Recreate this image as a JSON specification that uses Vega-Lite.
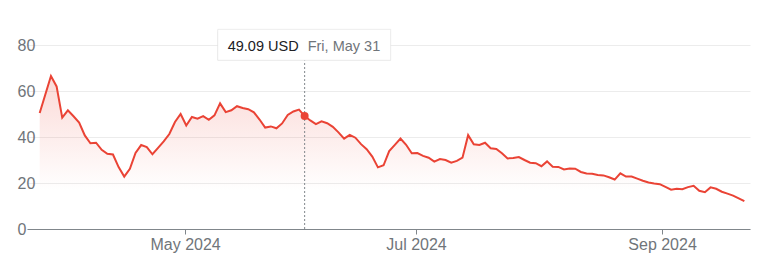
{
  "$schema": "https://vega.github.io/schema/vega-lite/v6.json",
  "width": 723,
  "height": 184,
  "autosize": {"type": "none"},
  "padding": {"left": 27, "top": 45, "right": 18, "bottom": 45},
  "background": "white",
  "config": {"view": {"stroke": null}, "font": "Liberation Sans"},
  "data": {"values": [
    {"i":0,"date":"2024-03-25","price":50.4},
    {"i":1,"date":"2024-03-26","price":58.5},
    {"i":2,"date":"2024-03-27","price":66.5},
    {"i":3,"date":"2024-03-28","price":62.0},
    {"i":4,"date":"2024-04-01","price":48.4},
    {"i":5,"date":"2024-04-02","price":51.6},
    {"i":6,"date":"2024-04-03","price":49.0},
    {"i":7,"date":"2024-04-04","price":46.3},
    {"i":8,"date":"2024-04-05","price":40.7},
    {"i":9,"date":"2024-04-08","price":37.3},
    {"i":10,"date":"2024-04-09","price":37.5},
    {"i":11,"date":"2024-04-10","price":34.4},
    {"i":12,"date":"2024-04-11","price":32.7},
    {"i":13,"date":"2024-04-12","price":32.4},
    {"i":14,"date":"2024-04-15","price":26.9},
    {"i":15,"date":"2024-04-16","price":22.8},
    {"i":16,"date":"2024-04-17","price":26.2},
    {"i":17,"date":"2024-04-18","price":33.1},
    {"i":18,"date":"2024-04-19","price":36.5},
    {"i":19,"date":"2024-04-22","price":35.6},
    {"i":20,"date":"2024-04-23","price":32.5},
    {"i":21,"date":"2024-04-24","price":35.3},
    {"i":22,"date":"2024-04-25","price":38.1},
    {"i":23,"date":"2024-04-26","price":41.3},
    {"i":24,"date":"2024-04-29","price":46.5},
    {"i":25,"date":"2024-04-30","price":50.0},
    {"i":26,"date":"2024-05-01","price":45.0},
    {"i":27,"date":"2024-05-02","price":48.7},
    {"i":28,"date":"2024-05-03","price":48.0},
    {"i":29,"date":"2024-05-06","price":49.1},
    {"i":30,"date":"2024-05-07","price":47.5},
    {"i":31,"date":"2024-05-08","price":49.4},
    {"i":32,"date":"2024-05-09","price":54.6},
    {"i":33,"date":"2024-05-10","price":50.8},
    {"i":34,"date":"2024-05-13","price":51.6},
    {"i":35,"date":"2024-05-14","price":53.4},
    {"i":36,"date":"2024-05-15","price":52.6},
    {"i":37,"date":"2024-05-16","price":52.1},
    {"i":38,"date":"2024-05-17","price":50.7},
    {"i":39,"date":"2024-05-20","price":47.6},
    {"i":40,"date":"2024-05-21","price":44.1},
    {"i":41,"date":"2024-05-22","price":44.6},
    {"i":42,"date":"2024-05-23","price":43.8},
    {"i":43,"date":"2024-05-24","price":45.9},
    {"i":44,"date":"2024-05-28","price":49.6},
    {"i":45,"date":"2024-05-29","price":51.1},
    {"i":46,"date":"2024-05-30","price":51.9},
    {"i":47,"date":"2024-05-31","price":49.09},
    {"i":48,"date":"2024-06-03","price":47.2},
    {"i":49,"date":"2024-06-04","price":45.6},
    {"i":50,"date":"2024-06-05","price":46.8},
    {"i":51,"date":"2024-06-06","price":46.0},
    {"i":52,"date":"2024-06-07","price":44.4},
    {"i":53,"date":"2024-06-10","price":42.0},
    {"i":54,"date":"2024-06-11","price":39.3},
    {"i":55,"date":"2024-06-12","price":40.9},
    {"i":56,"date":"2024-06-13","price":39.7},
    {"i":57,"date":"2024-06-14","price":36.9},
    {"i":58,"date":"2024-06-17","price":34.7},
    {"i":59,"date":"2024-06-18","price":31.5},
    {"i":60,"date":"2024-06-20","price":26.8},
    {"i":61,"date":"2024-06-21","price":27.7},
    {"i":62,"date":"2024-06-24","price":33.9},
    {"i":63,"date":"2024-06-25","price":36.6},
    {"i":64,"date":"2024-06-26","price":39.3},
    {"i":65,"date":"2024-06-27","price":36.6},
    {"i":66,"date":"2024-06-28","price":32.9},
    {"i":67,"date":"2024-07-01","price":33.0},
    {"i":68,"date":"2024-07-02","price":31.8},
    {"i":69,"date":"2024-07-03","price":31.0},
    {"i":70,"date":"2024-07-05","price":29.3},
    {"i":71,"date":"2024-07-08","price":30.4},
    {"i":72,"date":"2024-07-09","price":30.0},
    {"i":73,"date":"2024-07-10","price":28.8},
    {"i":74,"date":"2024-07-11","price":29.6},
    {"i":75,"date":"2024-07-12","price":31.0},
    {"i":76,"date":"2024-07-15","price":40.8},
    {"i":77,"date":"2024-07-16","price":36.8},
    {"i":78,"date":"2024-07-17","price":36.5},
    {"i":79,"date":"2024-07-18","price":37.5},
    {"i":80,"date":"2024-07-19","price":35.1},
    {"i":81,"date":"2024-07-22","price":34.8},
    {"i":82,"date":"2024-07-23","price":32.9},
    {"i":83,"date":"2024-07-24","price":30.7},
    {"i":84,"date":"2024-07-25","price":30.9},
    {"i":85,"date":"2024-07-26","price":31.3},
    {"i":86,"date":"2024-07-29","price":30.0},
    {"i":87,"date":"2024-07-30","price":28.8},
    {"i":88,"date":"2024-07-31","price":28.6},
    {"i":89,"date":"2024-08-01","price":27.3},
    {"i":90,"date":"2024-08-02","price":29.4},
    {"i":91,"date":"2024-08-05","price":27.1},
    {"i":92,"date":"2024-08-06","price":27.0},
    {"i":93,"date":"2024-08-07","price":25.9},
    {"i":94,"date":"2024-08-08","price":26.3},
    {"i":95,"date":"2024-08-09","price":26.2},
    {"i":96,"date":"2024-08-12","price":24.8},
    {"i":97,"date":"2024-08-13","price":24.1},
    {"i":98,"date":"2024-08-14","price":24.0},
    {"i":99,"date":"2024-08-15","price":23.5},
    {"i":100,"date":"2024-08-16","price":23.3},
    {"i":101,"date":"2024-08-19","price":22.5},
    {"i":102,"date":"2024-08-20","price":21.5},
    {"i":103,"date":"2024-08-21","price":24.2},
    {"i":104,"date":"2024-08-22","price":22.8},
    {"i":105,"date":"2024-08-23","price":22.8},
    {"i":106,"date":"2024-08-26","price":21.9},
    {"i":107,"date":"2024-08-27","price":21.0},
    {"i":108,"date":"2024-08-28","price":20.2},
    {"i":109,"date":"2024-08-29","price":19.8},
    {"i":110,"date":"2024-08-30","price":19.5},
    {"i":111,"date":"2024-09-03","price":18.3},
    {"i":112,"date":"2024-09-04","price":17.1},
    {"i":113,"date":"2024-09-05","price":17.5},
    {"i":114,"date":"2024-09-06","price":17.3},
    {"i":115,"date":"2024-09-09","price":18.2},
    {"i":116,"date":"2024-09-10","price":18.8},
    {"i":117,"date":"2024-09-11","price":16.6},
    {"i":118,"date":"2024-09-12","price":16.0},
    {"i":119,"date":"2024-09-13","price":18.1},
    {"i":120,"date":"2024-09-16","price":17.5},
    {"i":121,"date":"2024-09-17","price":16.2},
    {"i":122,"date":"2024-09-18","price":15.4},
    {"i":123,"date":"2024-09-19","price":14.5},
    {"i":124,"date":"2024-09-20","price":13.3},
    {"i":125,"date":"2024-09-23","price":12.1}
  ]},
  "layer": [
    {
      "mark": {"type": "area", "color": {"gradient": "linear", "x1": 0, "y1": 0, "x2": 0, "y2": 1,
        "stops": [{"offset": 0, "color": "rgba(234,67,53,0.2)"}, {"offset": 0.75, "color": "rgba(234,67,53,0)"}]}},
      "encoding": {
        "x": {"field": "i", "type": "quantitative",
          "scale": {"domain": [-2.25, 126], "nice": false, "zero": false},
          "axis": {"values": [25.8, 66.75, 110.4],
            "labelExpr": "datum.value < 40 ? 'May 2024' : datum.value < 90 ? 'Jul 2024' : 'Sep 2024'",
            "grid": false, "title": null, "domainColor": "#80868b", "domainWidth": 1,
            "tickColor": "#80868b", "tickSize": 5, "labelPadding": 2, "labelColor": "#70757a",
            "labelFontSize": 16, "labelFlush": false, "labelOverlap": false}},
        "y": {"field": "price", "type": "quantitative",
          "scale": {"domain": [0, 80], "nice": false},
          "axis": {"values": [0, 20, 40, 60, 80], "grid": true, "gridColor": "#ececec", "gridWidth": 1,
            "domain": false, "ticks": false, "tickSize": 0, "labelAlign": "left", "labelPadding": 10,
            "labelBaseline": "middle", "labelColor": "#70757a", "labelFontSize": 16, "title": null}}
      }
    },
    {
      "transform": [{"filter": "datum.i == 47"}],
      "mark": {"type": "rule", "strokeDash": [2, 2], "color": "#80868b", "strokeWidth": 1},
      "encoding": {"x": {"field": "i", "type": "quantitative"}, "y": {"datum": 0}, "y2": {"datum": 73.35}}
    },
    {
      "mark": {"type": "line", "color": "#ea4335", "strokeWidth": 2},
      "encoding": {"x": {"field": "i", "type": "quantitative"}, "y": {"field": "price", "type": "quantitative"}}
    },
    {
      "transform": [{"filter": "datum.i == 47"}],
      "mark": {"type": "circle", "size": 64, "color": "#ea4335", "opacity": 1},
      "encoding": {"x": {"field": "i", "type": "quantitative"}, "y": {"field": "price", "type": "quantitative"}}
    },
    {
      "transform": [{"filter": "datum.i == 47"}],
      "mark": {"type": "rect", "fill": "#000000", "opacity": 0.07, "yOffset": 2.5},
      "encoding": {"x": {"datum": 31.58}, "x2": {"datum": 62.27}, "y": {"datum": 86.8}, "y2": {"datum": 73.35}}
    },
    {
      "transform": [{"filter": "datum.i == 47"}],
      "mark": {"type": "rect", "fill": "#000000", "opacity": 0.1, "yOffset": 1},
      "encoding": {"x": {"datum": 31.58}, "x2": {"datum": 62.27}, "y": {"datum": 86.8}, "y2": {"datum": 73.35}}
    },
    {
      "transform": [{"filter": "datum.i == 47"}],
      "mark": {"type": "rect", "fill": "white", "stroke": "#e3e3e3", "strokeWidth": 0.6},
      "encoding": {"x": {"datum": 31.58}, "x2": {"datum": 62.27}, "y": {"datum": 86.8}, "y2": {"datum": 73.35}}
    },
    {
      "transform": [{"filter": "datum.i == 47"}, {"calculate": "format(datum.price, '.2f') + ' USD'", "as": "priceLabel"}],
      "mark": {"type": "text", "align": "left", "baseline": "alphabetic", "fontSize": 14.5, "color": "#202124"},
      "encoding": {"x": {"datum": 33.35}, "y": {"datum": 77.26}, "text": {"field": "priceLabel"}}
    },
    {
      "transform": [{"filter": "datum.i == 47"}, {"calculate": "utcFormat(toDate(datum.date), '%a, %b %-d')", "as": "dateLabel"}],
      "mark": {"type": "text", "align": "left", "baseline": "alphabetic", "fontSize": 14.5, "color": "#70757a"},
      "encoding": {"x": {"datum": 47.54}, "y": {"datum": 77.26}, "text": {"field": "dateLabel"}}
    }
  ]
}
